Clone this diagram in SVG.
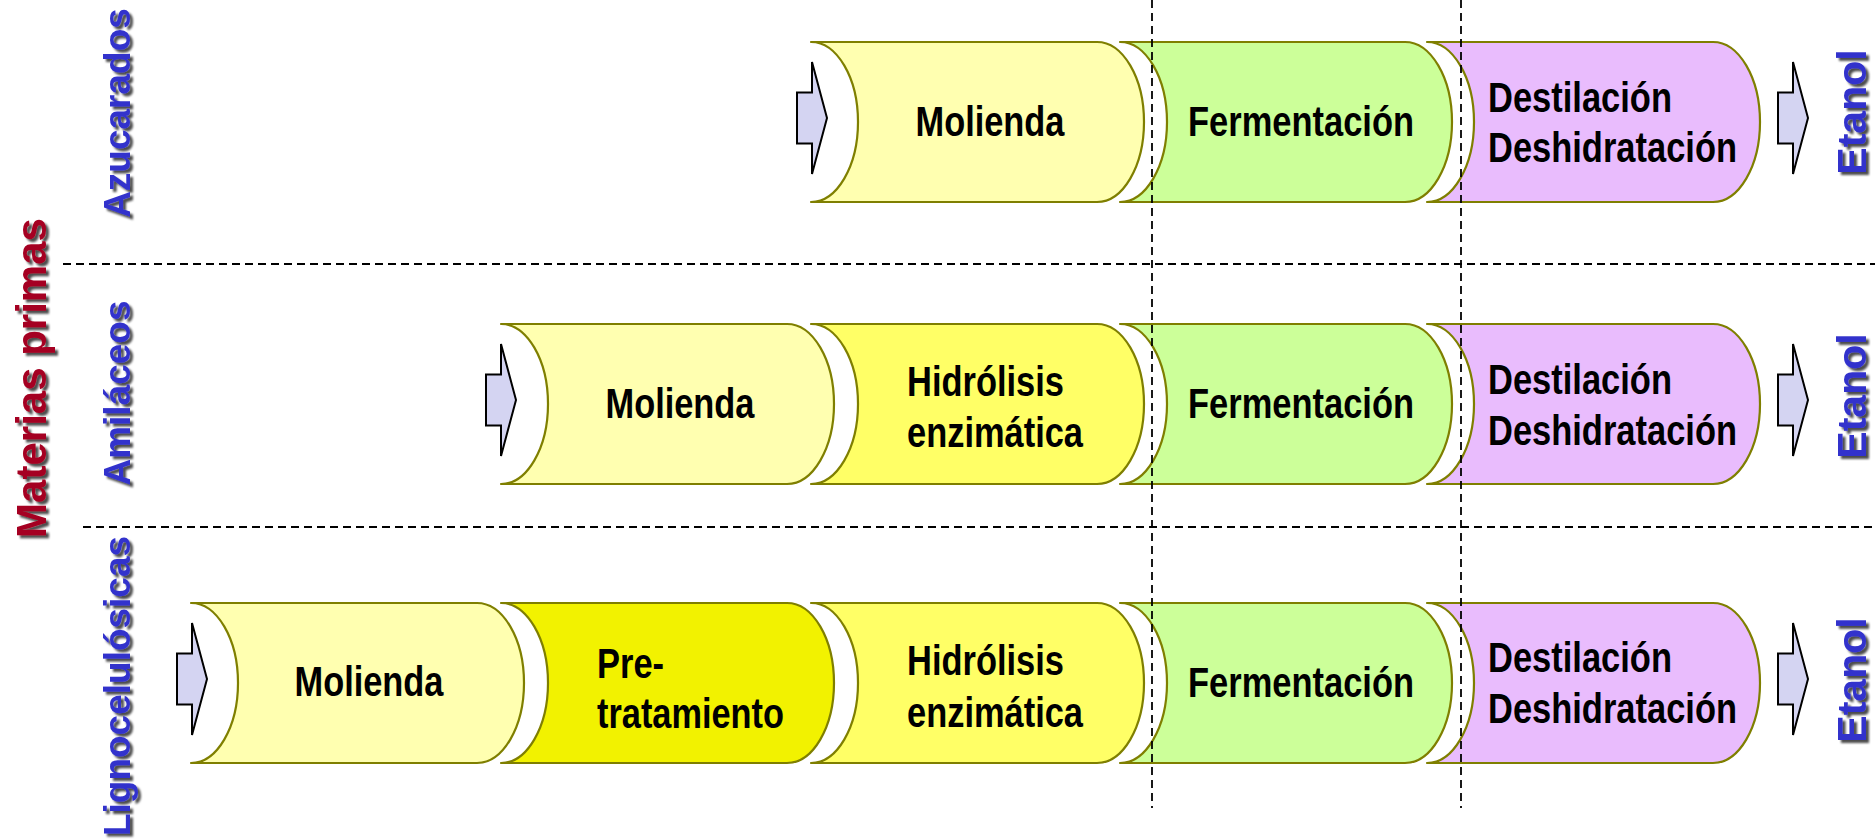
<svg xmlns="http://www.w3.org/2000/svg" width="1875" height="839" viewBox="0 0 1875 839">
<defs>
<filter id="sh" x="-20%" y="-20%" width="140%" height="140%">
<feGaussianBlur in="SourceAlpha" stdDeviation="1.2" result="b"/>
<feOffset in="b" dx="2.5" dy="2.5" result="o"/>
<feFlood flood-color="#000" flood-opacity="0.7"/>
<feComposite in2="o" operator="in" result="s"/>
<feMerge><feMergeNode in="s"/><feMergeNode in="SourceGraphic"/></feMerge>
</filter>
</defs>
<style>
.st{stroke:#7f7f00;stroke-width:2.2;stroke-linejoin:round}
.mol{fill:#ffffb0}.hid{fill:#ffff66}.pre{fill:#f2f200}.fer{fill:#ccff99}.des{fill:#e9bcfd}
.lb{font-family:"Liberation Sans Narrow","Liberation Sans",Arial,sans-serif;font-weight:bold;font-size:42px;fill:#000}
.c{text-anchor:middle}
.arr{fill:#d4d4f2;stroke:#000;stroke-width:2;stroke-linejoin:miter}
.side{font-family:"Liberation Sans",Arial,sans-serif;font-weight:bold;font-size:37px;fill:#3333cc;text-anchor:middle}
.et{font-family:"Liberation Sans",Arial,sans-serif;font-weight:bold;font-size:41px;fill:#3333cc;text-anchor:middle}
.mp{font-family:"Liberation Sans",Arial,sans-serif;font-weight:bold;font-size:42px;fill:#a50021;text-anchor:middle}
.dash{stroke:#000;stroke-width:1.8;stroke-dasharray:8 5;fill:none}
</style>

<!-- Row 1 -->
<g id="r1-molienda">
<path class="st mol" d="M811,42 L1097,42 A47,80 0 0 1 1097,202 L811,202 A47,80 0 0 0 811,42 Z"/>
<text class="lb c" x="990" y="136" textLength="149" lengthAdjust="spacingAndGlyphs">Molienda</text>
</g>
<g id="r1-fermentacion">
<path class="st fer" d="M1120,42 L1405,42 A47,80 0 0 1 1405,202 L1120,202 A47,80 0 0 0 1120,42 Z"/>
<text class="lb c" x="1301" y="136" textLength="226" lengthAdjust="spacingAndGlyphs">Fermentación</text>
</g>
<g id="r1-destilacion">
<path class="st des" d="M1427,42 L1713,42 A47,80 0 0 1 1713,202 L1427,202 A47,80 0 0 0 1427,42 Z"/>
<text class="lb" x="1488" y="112" textLength="184" lengthAdjust="spacingAndGlyphs">Destilación</text>
<text class="lb" x="1488" y="162" textLength="249" lengthAdjust="spacingAndGlyphs">Deshidratación</text>
</g>

<!-- Row 2 -->
<g id="r2-molienda">
<path class="st mol" d="M501,324 L787,324 A47,80 0 0 1 787,484 L501,484 A47,80 0 0 0 501,324 Z"/>
<text class="lb c" x="680" y="418" textLength="149" lengthAdjust="spacingAndGlyphs">Molienda</text>
</g>
<g id="r2-hidrolisis">
<path class="st hid" d="M811,324 L1097,324 A47,80 0 0 1 1097,484 L811,484 A47,80 0 0 0 811,324 Z"/>
<text class="lb" x="907" y="396" textLength="157" lengthAdjust="spacingAndGlyphs">Hidrólisis</text>
<text class="lb" x="907" y="447" textLength="176" lengthAdjust="spacingAndGlyphs">enzimática</text>
</g>
<g id="r2-fermentacion">
<path class="st fer" d="M1120,324 L1405,324 A47,80 0 0 1 1405,484 L1120,484 A47,80 0 0 0 1120,324 Z"/>
<text class="lb c" x="1301" y="418" textLength="226" lengthAdjust="spacingAndGlyphs">Fermentación</text>
</g>
<g id="r2-destilacion">
<path class="st des" d="M1427,324 L1713,324 A47,80 0 0 1 1713,484 L1427,484 A47,80 0 0 0 1427,324 Z"/>
<text class="lb" x="1488" y="394" textLength="184" lengthAdjust="spacingAndGlyphs">Destilación</text>
<text class="lb" x="1488" y="445" textLength="249" lengthAdjust="spacingAndGlyphs">Deshidratación</text>
</g>

<!-- Row 3 -->
<g id="r3-molienda">
<path class="st mol" d="M191,603 L477,603 A47,80 0 0 1 477,763 L191,763 A47,80 0 0 0 191,603 Z"/>
<text class="lb c" x="369" y="696" textLength="149" lengthAdjust="spacingAndGlyphs">Molienda</text>
</g>
<g id="r3-pretratamiento">
<path class="st pre" d="M501,603 L787,603 A47,80 0 0 1 787,763 L501,763 A47,80 0 0 0 501,603 Z"/>
<text class="lb" x="597" y="678" textLength="67" lengthAdjust="spacingAndGlyphs">Pre-</text>
<text class="lb" x="597" y="728" textLength="187" lengthAdjust="spacingAndGlyphs">tratamiento</text>
</g>
<g id="r3-hidrolisis">
<path class="st hid" d="M811,603 L1097,603 A47,80 0 0 1 1097,763 L811,763 A47,80 0 0 0 811,603 Z"/>
<text class="lb" x="907" y="675" textLength="157" lengthAdjust="spacingAndGlyphs">Hidrólisis</text>
<text class="lb" x="907" y="727" textLength="176" lengthAdjust="spacingAndGlyphs">enzimática</text>
</g>
<g id="r3-fermentacion">
<path class="st fer" d="M1120,603 L1405,603 A47,80 0 0 1 1405,763 L1120,763 A47,80 0 0 0 1120,603 Z"/>
<text class="lb c" x="1301" y="697" textLength="226" lengthAdjust="spacingAndGlyphs">Fermentación</text>
</g>
<g id="r3-destilacion">
<path class="st des" d="M1427,603 L1713,603 A47,80 0 0 1 1713,763 L1427,763 A47,80 0 0 0 1427,603 Z"/>
<text class="lb" x="1488" y="672" textLength="184" lengthAdjust="spacingAndGlyphs">Destilación</text>
<text class="lb" x="1488" y="723" textLength="249" lengthAdjust="spacingAndGlyphs">Deshidratación</text>
</g>

<!-- Connectors: block arrows -->
<g id="connectors">
<polygon class="arr" points="797,92.5 812,92.5 812,62 827,118 812,174 812,143.5 797,143.5"/>
<polygon class="arr" points="486,374.5 501,374.5 501,344 516,400 501,456 501,425.5 486,425.5"/>
<polygon class="arr" points="177,653.5 192,653.5 192,623 207,679 192,735 192,704.5 177,704.5"/>
<polygon class="arr" points="1778,92.5 1793,92.5 1793,62 1808,118 1793,174 1793,143.5 1778,143.5"/>
<polygon class="arr" points="1778,374.5 1793,374.5 1793,344 1808,400 1793,456 1793,425.5 1778,425.5"/>
<polygon class="arr" points="1778,653.5 1793,653.5 1793,623 1808,679 1793,735 1793,704.5 1778,704.5"/>
</g>

<!-- Dashed separators -->
<g id="separators">
<line class="dash" x1="63" y1="264" x2="1875" y2="264"/>
<line class="dash" x1="83" y1="527" x2="1875" y2="527"/>
<line class="dash" x1="1152" y1="0" x2="1152" y2="808"/>
<line class="dash" x1="1461" y1="0" x2="1461" y2="808"/>
</g>

<!-- Labels -->
<g id="materias-primas" filter="url(#sh)">
<text class="mp" transform="translate(46,378) rotate(-90)">Materias primas</text>
</g>
<g id="azucarados" filter="url(#sh)">
<text class="side" transform="translate(130,113) rotate(-90)">Azucarados</text>
</g>
<g id="amilaceos" filter="url(#sh)">
<text class="side" transform="translate(130,393) rotate(-90)">Amiláceos</text>
</g>
<g id="lignocelulosicas" filter="url(#sh)">
<text class="side" transform="translate(130,686) rotate(-90)">Lignocelulósicas</text>
</g>
<g id="etanol-1" filter="url(#sh)">
<text class="et" transform="translate(1866,112) rotate(-90)">Etanol</text>
</g>
<g id="etanol-2" filter="url(#sh)">
<text class="et" transform="translate(1866,396) rotate(-90)">Etanol</text>
</g>
<g id="etanol-3" filter="url(#sh)">
<text class="et" transform="translate(1866,680) rotate(-90)">Etanol</text>
</g>
</svg>
